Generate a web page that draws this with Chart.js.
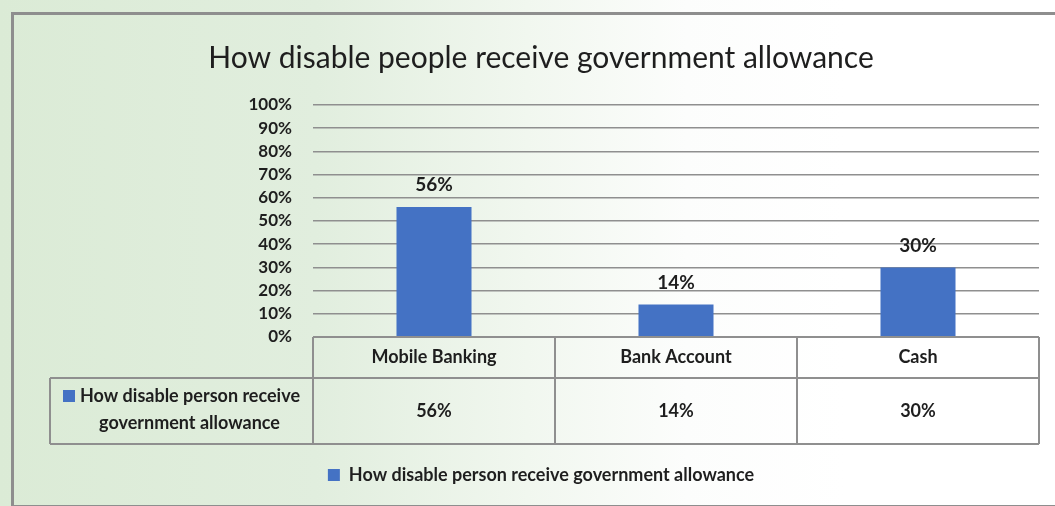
<!DOCTYPE html>
<html>
<head>
<meta charset="utf-8">
<script src="https://cdn.jsdelivr.net/npm/chart.js@4/dist/chart.umd.min.js"></script>
<style>
  html, body { margin: 0; padding: 0; }
  body {
    width: 1055px; height: 506px; overflow: hidden; position: relative;
    background: linear-gradient(to right, #dbebd6 0%, #e1eede 30%, #f1f7ef 50%, #fcfdfc 65%, #ffffff 80%);
  }
  #frame {
    position: absolute; left: 11px; top: 12px; width: 1060px; height: 490px;
    border: 3px solid #8e8e8e;
  }
  #chart { position: absolute; left: 0; top: 0; }
</style>
</head>
<body>
<div id="frame"></div>
<canvas id="chart" width="1055" height="506"></canvas>
<script>
// dados do gráfico
const categories = ["Mobile Banking", "Bank Account", "Cash"];
const values = [56, 14, 30];
const yTicks = [0, 10, 20, 30, 40, 50, 60, 70, 80, 90, 100];
const seriesName = "How disable person receive government allowance";
const chartTitle = "How disable people receive government allowance";

const BLUE = "#4472c4";
const GRID = "#8f8f8f";
const TEXT = "#1e1e1e";
const FONT = "Lato, 'Open Sans', sans-serif";

// rótulos de valor acima das barras
const barLabels = {
  id: "barLabels",
  afterDatasetsDraw(chart) {
    const ctx = chart.ctx;
    const meta = chart.getDatasetMeta(0);
    ctx.save();
    ctx.font = `bold 19px ${FONT}`;
    ctx.fillStyle = TEXT;
    ctx.textAlign = "center";
    ctx.textBaseline = "middle";
    meta.data.forEach((bar, i) => {
      ctx.fillText(values[i] + "%", bar.x, bar.y - 22);
    });
    ctx.restore();
  }
};

// tabela de dados embaixo do eixo
const dataTable = {
  id: "dataTable",
  afterDraw(chart) {
    const ctx = chart.ctx;
    const area = chart.chartArea;
    const xs = chart.scales.x;
    const n = categories.length;
    const colW = (area.right - area.left) / n;
    const top = area.bottom;
    const midY = top + 41;
    const bot = top + 107;
    const leftEdge = 50;

    ctx.save();
    ctx.strokeStyle = GRID;
    ctx.lineWidth = 2;
    ctx.beginPath();
    // linhas horizontais
    ctx.moveTo(area.left, top); ctx.lineTo(area.right, top);
    ctx.moveTo(leftEdge, midY); ctx.lineTo(area.right, midY);
    ctx.moveTo(leftEdge, bot); ctx.lineTo(area.right, bot);
    // linhas verticais
    ctx.moveTo(leftEdge, midY); ctx.lineTo(leftEdge, bot);
    for (let i = 0; i <= n; i++) {
      const x = area.left + colW * i;
      ctx.moveTo(x, top); ctx.lineTo(x, bot);
    }
    ctx.stroke();

    ctx.fillStyle = TEXT;
    ctx.font = `bold 18px ${FONT}`;
    ctx.textAlign = "center";
    ctx.textBaseline = "middle";
    categories.forEach((c, i) => {
      const cx = xs.getPixelForValue(i);
      ctx.fillText(c, cx, (top + midY) / 2);
      ctx.fillText(values[i] + "%", cx, (midY + bot) / 2);
    });

    // cabeçalho da linha com o quadradinho azul
    const line1 = "How disable person receive";
    const line2 = "government allowance";
    const cellC = (leftEdge + area.left) / 2;
    const w1 = ctx.measureText(line1).width;
    const sq = 12;
    const start = cellC - (w1 + sq + 5) / 2;
    ctx.fillStyle = BLUE;
    ctx.fillRect(start, midY + 18 - sq / 2, sq, sq);
    ctx.fillStyle = TEXT;
    ctx.textAlign = "left";
    ctx.fillText(line1, start + sq + 5, midY + 18);
    ctx.textAlign = "center";
    ctx.fillText(line2, cellC + 8, midY + 45);
    ctx.restore();
  }
};

new Chart(document.getElementById("chart"), {
  type: "bar",
  data: {
    labels: categories,
    datasets: [{
      label: seriesName,
      data: values,
      backgroundColor: BLUE,
      categoryPercentage: 1,
      barPercentage: 0.31
    }]
  },
  options: {
    responsive: false,
    animation: false,
    layout: { padding: { left: 43, right: 16, top: 40, bottom: 12 } },
    scales: {
      y: {
        min: 0,
        max: 100,
        afterBuildTicks: s => { s.ticks = yTicks.map(v => ({ value: v })); },
        afterFit: s => { s.width = 270; },
        ticks: {
          autoSkip: false,
          callback: v => v + "%",
          color: TEXT,
          font: { family: FONT, size: 17, weight: "bold" },
          padding: 21
        },
        grid: { color: GRID, lineWidth: 1.5, drawTicks: false },
        border: { display: false }
      },
      x: {
        afterFit: s => { s.height = 107; },
        ticks: { display: false },
        grid: { display: false },
        border: { display: false }
      }
    },
    plugins: {
      title: {
        display: true,
        text: chartTitle,
        color: TEXT,
        font: { family: FONT, size: 30, weight: "normal" },
        padding: { top: 0, bottom: 29 }
      },
      legend: {
        position: "bottom",
        labels: {
          color: TEXT,
          font: { family: FONT, size: 18, weight: "bold" },
          boxWidth: 12,
          boxHeight: 12,
          padding: 22
        }
      },
      tooltip: { enabled: false }
    }
  },
  plugins: [barLabels, dataTable]
});
</script>
</body>
</html>
